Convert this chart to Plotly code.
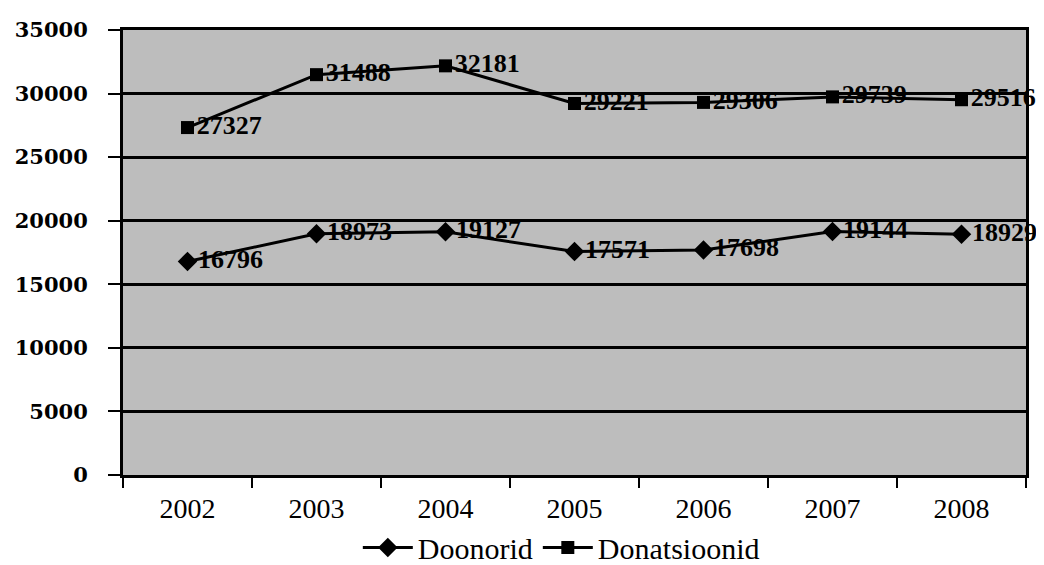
import plotly.graph_objects as go

years = ["2002", "2003", "2004", "2005", "2006", "2007", "2008"]
doonorid = [16796, 18973, 19127, 17571, 17698, 19144, 18929]
donatsioonid = [27327, 31488, 32181, 29221, 29306, 29739, 29516]
y_ticks = [0, 5000, 10000, 15000, 20000, 25000, 30000, 35000]

serif = "Liberation Serif"

fig = go.Figure()
fig.add_trace(go.Scatter(
    x=years, y=doonorid, name="Doonorid", mode="lines+markers+text",
    line=dict(color="black", width=3),
    marker=dict(symbol="diamond", size=15, color="black"),
    text=[str(v) for v in doonorid], textposition="middle right",
    textfont=dict(family=serif, size=26, color="black", weight="bold"),
    cliponaxis=False,
))
fig.add_trace(go.Scatter(
    x=years, y=donatsioonid, name="Donatsioonid", mode="lines+markers+text",
    line=dict(color="black", width=3),
    marker=dict(symbol="square", size=13, color="black"),
    text=[str(v) for v in donatsioonid], textposition="middle right",
    textfont=dict(family=serif, size=26, color="black", weight="bold"),
    cliponaxis=False,
))

fig.update_layout(
    width=1044, height=565,
    margin=dict(l=115, r=26, t=22, b=98, autoexpand=False),
    paper_bgcolor="white",
    plot_bgcolor="#bdbdbd",
    font=dict(family=serif, color="black", size=28),
    showlegend=True,
    legend=dict(orientation="h", xref="container", x=0.53, xanchor="center",
                yref="container", y=0.045, yanchor="middle",
                font=dict(size=30, family=serif), itemwidth=50,
                traceorder="normal", bgcolor="rgba(0,0,0,0)"),
)
fig.update_xaxes(
    type="category", tickson="boundaries", ticks="outside", ticklen=10,
    tickwidth=2, tickcolor="black", showgrid=False,
    showline=True, linecolor="black", linewidth=3, mirror=True,
    tickfont=dict(size=28, family=serif), range=[-0.5, 6.5],
    ticklabelstandoff=6, automargin=False,
)
fig.update_yaxes(
    range=[0, 35000], tickvals=y_ticks, ticktext=[str(v) for v in y_ticks],
    ticks="outside", ticklen=12, tickwidth=2, tickcolor="black",
    showgrid=True, gridcolor="black", gridwidth=3,
    showline=True, linecolor="black", linewidth=3, mirror=True,
    tickfont=dict(size=21, family="DejaVu Serif", weight="bold"),
    ticklabelstandoff=16, zeroline=False, automargin=False,
)

fig.write_html("out.html")
